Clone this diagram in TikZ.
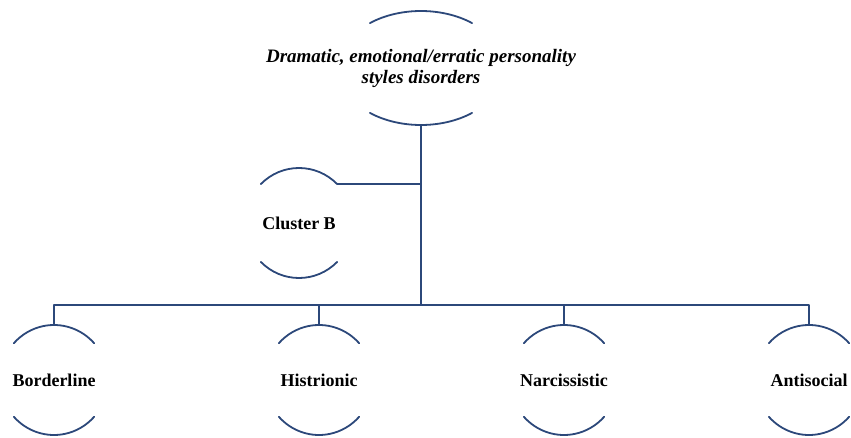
\documentclass[tikz,border=0pt]{standalone}
\usepackage{fontspec}
\setmainfont{Liberation Serif}
\definecolor{navy}{RGB}{44,72,122}
\newcommand\ovalarcs[4]{% node, x radius, y radius, end angle
	\draw[arcline] (#1.center) ++(#4:#2pt and #3pt) arc[start angle=#4, end angle=180-#4, x radius=#2pt, y radius=#3pt];
	\draw[arcline] (#1.center) ++(180+#4:#2pt and #3pt) arc[start angle=180+#4, end angle=360-#4, x radius=#2pt, y radius=#3pt];
	\path (#1.center) ++(0,#3) coordinate (#1-n) (#1.center) ++(0,-#3) coordinate (#1-s)
	(#1.center) ++(#4:#2pt and #3pt) coordinate (#1-ne);
}
\begin{document}
\begin{tikzpicture}[x=1pt, y=1pt, line join=round, line cap=round,
	arcline/.style={navy, line width=1.8pt},
	link/.style={navy, line width=1.6pt, line cap=butt},
	lbl/.style={font=\fontsize{18}{21}\selectfont\bfseries, inner sep=0pt, align=center}]
	\useasboundingbox (0,0) rectangle (851,437);
	\node[lbl, font=\fontsize{19}{21}\selectfont\bfseries\itshape] (dr) at (421,369) {Dramatic, emotional/erratic personality\\styles disorders};
	\node[lbl] (cl) at (299,214) {Cluster B};
	\node[lbl] (bl) at (54,57) {Borderline};
	\node[lbl] (hi) at (319,57) {Histrionic};
	\node[lbl] (na) at (564,57) {Narcissistic};
	\node[lbl] (an) at (809,57) {Antisocial};
	\ovalarcs{dr}{83}{57}{52}
	\ovalarcs{cl}{54}{55}{45}
	\foreach \x in {bl,hi,na,an}{\ovalarcs{\x}{54}{55}{42}}
	\coordinate (J) at (dr-s |- 0,132);
	\draw[link] (dr-s) -- (J);
	\draw[link] (bl-n) |- (J) -| (an-n);
	\draw[link] (hi-n) -- (hi-n |- J) (na-n) -- (na-n |- J);
	\draw[link] (cl-ne) -- (cl-ne -| J);
\end{tikzpicture}
\end{document}
